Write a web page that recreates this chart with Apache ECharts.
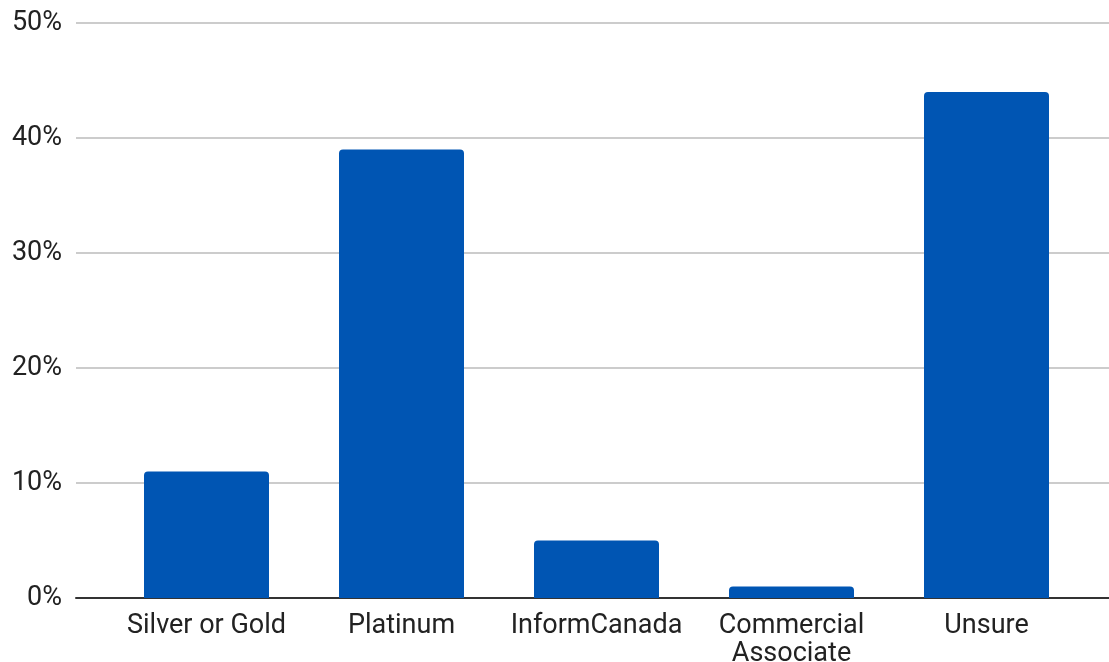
<!DOCTYPE html>
<html><head><meta charset="utf-8">
<script src="https://cdn.jsdelivr.net/npm/echarts@6/dist/echarts.min.js"></script>
<style>html,body{margin:0;padding:0;background:#fff}#c{width:1109px;height:662px}</style>
</head><body><div id="c"></div>
<script>
var categories = ["Silver or Gold", "Platinum", "InformCanada", "Commercial\nAssociate", "Unsure"];
var values = [11, 39, 5, 1, 44];
var yTicks = [0, 10, 20, 30, 40, 50];

var chart = echarts.init(document.getElementById('c'));
var font = 'Roboto, sans-serif';
chart.setOption({
  animation: false,
  grid: [
    {left: 76, right: 0, top: 23, bottom: 64, outerBoundsMode: 'none', containLabel: false},
    {left: 109, right: 25, top: 23, bottom: 64, outerBoundsMode: 'none', containLabel: false}
  ],
  xAxis: [
    {gridIndex: 0, type: 'value', min: 0, max: 1, show: true,
     axisLine: {show: true, lineStyle: {color: '#333', width: 2}},
     axisTick: {show: false}, axisLabel: {show: false}, splitLine: {show: false}},
    {gridIndex: 1, type: 'category', data: categories,
     axisLine: {show: false}, axisTick: {show: false},
     axisLabel: {color: '#222', fontSize: 27, fontFamily: font, margin: 14, lineHeight: 28, interval: 0}}
  ],
  yAxis: [
    {gridIndex: 0, type: 'value', min: yTicks[0], max: yTicks[yTicks.length-1], interval: 10,
     axisLine: {show: false}, axisTick: {show: false},
     axisLabel: {color: '#222', fontSize: 27, fontFamily: font, margin: 14, formatter: '{value}%'},
     splitLine: {show: true, lineStyle: {color: '#cccccc', width: 2}}},
    {gridIndex: 1, type: 'value', min: yTicks[0], max: yTicks[yTicks.length-1], interval: 10, show: false,
     splitLine: {show: false}}
  ],
  series: [{
    type: 'bar', xAxisIndex: 1, yAxisIndex: 1, data: values, barWidth: 125,
    itemStyle: {color: '#0055b3', borderRadius: [4, 4, 0, 0]}, z: 3
  }]
});
</script></body></html>
